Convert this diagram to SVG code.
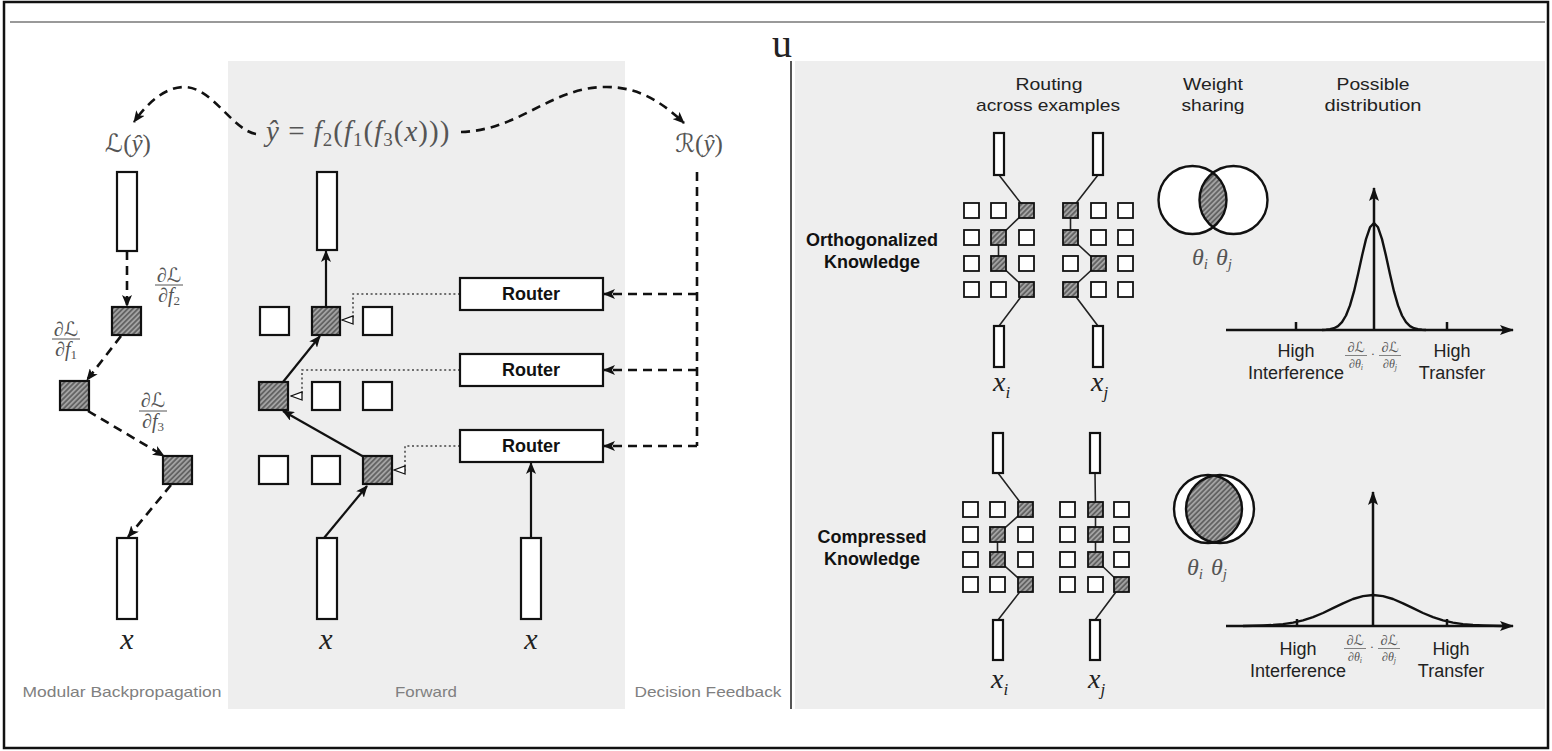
<svg xmlns="http://www.w3.org/2000/svg" width="1552" height="751" viewBox="0 0 1552 751">
<defs>
<pattern id="hatch" patternUnits="userSpaceOnUse" width="3.6" height="3.6" patternTransform="rotate(45)">
<rect width="3.6" height="3.6" fill="#636363"/>
<line x1="0.9" y1="0" x2="0.9" y2="3.6" stroke="#d6d6d6" stroke-width="1"/>
</pattern>
<marker id="ah" viewBox="0 0 12 10" refX="11" refY="5" markerWidth="12" markerHeight="10" markerUnits="userSpaceOnUse" orient="auto">
<path d="M0,0 L12,5 L0,10 L3,5 z" fill="#111"/>
</marker>
<marker id="axh" viewBox="0 0 14 10" refX="13" refY="5" markerWidth="14" markerHeight="10" markerUnits="userSpaceOnUse" orient="auto">
<path d="M0,0 L14,5 L0,10 L3,5 z" fill="#111"/>
</marker>
<marker id="tri" viewBox="-1 -1 13 10" refX="11" refY="4" markerWidth="13" markerHeight="10" markerUnits="userSpaceOnUse" orient="auto">
<path d="M0,0 L11,4 L0,8 z" fill="#fff" stroke="#111" stroke-width="1.3"/>
</marker>
<clipPath id="vA1"><circle cx="1192.5" cy="200" r="34"/></clipPath>
<clipPath id="vA2"><circle cx="1208" cy="509" r="34"/></clipPath>
<style>
.box{fill:#fff;stroke:#111;stroke-width:2.2}
.hb{fill:url(#hatch);stroke:#111;stroke-width:2.2}
.sq{fill:#fff;stroke:#111;stroke-width:1.8}
.sh{fill:url(#hatch);stroke:#111;stroke-width:1.8}
.dash{fill:none;stroke:#111;stroke-width:2.6;stroke-dasharray:9 6}
.solid{fill:none;stroke:#111;stroke-width:2.2}
.dot{fill:none;stroke:#444;stroke-width:1.5;stroke-dasharray:2 2.6}
.thin{fill:none;stroke:#222;stroke-width:1.6}
.axis{fill:none;stroke:#111;stroke-width:2.5}
.curve{fill:none;stroke:#111;stroke-width:2.4;stroke-linejoin:round}
.hdr{font-family:"Liberation Sans",Arial,sans-serif;font-size:17px;fill:#222;text-anchor:middle}
.bold{font-family:"Liberation Sans",Arial,sans-serif;font-size:18px;font-weight:bold;fill:#111;text-anchor:middle}
.foot{font-family:"Liberation Sans",Arial,sans-serif;font-size:15px;fill:#808080;text-anchor:middle}
.ax{font-family:"Liberation Sans",Arial,sans-serif;font-size:18px;fill:#222;text-anchor:middle}
.math{font-family:"Liberation Serif","DejaVu Serif","DejaVu Sans",serif;font-style:italic;fill:#555}
.mr{font-family:"Liberation Serif","DejaVu Serif","DejaVu Sans",serif;font-style:normal;fill:#555}
.var{font-family:"Liberation Serif","DejaVu Serif",serif;font-style:italic;fill:#222}
</style>
</defs>

<!-- frame -->
<rect x="4" y="2" width="1544" height="746" fill="#fff" stroke="#111" stroke-width="2.5"/>
<line x1="10" y1="22" x2="1545" y2="22" stroke="#777" stroke-width="1.6"/>
<text x="772" y="57" font-family="Liberation Serif, serif" font-size="40" fill="#222">u</text>

<!-- panels -->
<rect id="panel-forward" x="228" y="61" width="397" height="648" fill="#eeeeee"/>
<rect id="panel-right" x="795" y="61" width="750" height="648" fill="#eeeeee"/>
<line x1="791" y1="61" x2="791" y2="709" stroke="#555" stroke-width="2"/>

<!-- connectors -->
<g id="connectors">
<path class="dash" d="M256,134 C232,130 212,86 183,87 C163,88 146,105 134,122" marker-end="url(#ah)"/>
<path class="dash" d="M461,132 C520,130 550,88 604,87 C640,86 665,105 684,123" marker-end="url(#ah)"/>
<path class="dash" d="M127,251 V306" marker-end="url(#ah)"/>
<path class="dash" d="M121,336 L87,380" marker-end="url(#ah)"/>
<path class="dash" d="M88,411 L164,456" marker-end="url(#ah)"/>
<path class="dash" d="M171,485 L128,537" marker-end="url(#ah)"/>
<path class="solid" d="M326,307 V251" marker-end="url(#ah)"/>
<path class="solid" d="M283,382 L320,336" marker-end="url(#ah)"/>
<path class="solid" d="M364,457 L283,411" marker-end="url(#ah)"/>
<path class="solid" d="M324,538 L367,486" marker-end="url(#ah)"/>
<path class="solid" d="M531,538 V463" marker-end="url(#ah)"/>
<path class="dash" d="M697,172 V446"/>
<path class="dash" d="M697,294 H604" marker-end="url(#ah)"/>
<path class="dash" d="M697,370 H604" marker-end="url(#ah)"/>
<path class="dash" d="M697,446 H604" marker-end="url(#ah)"/>
<path class="dot" d="M460,294 H353 V320 H342" marker-end="url(#tri)"/>
<path class="dot" d="M460,370 H302 V396 H291" marker-end="url(#tri)"/>
<path class="dot" d="M460,446 H405 V470 H394" marker-end="url(#tri)"/>
<polyline class="thin" points="999,175 1026.5,210.5 998.5,237.5 998.5,263.5 1026.5,289.5 999,326"/>
<polyline class="thin" points="1098,175 1070.5,210.5 1070.5,237.5 1098.5,263.5 1070.5,289.5 1098,326"/>
<polyline class="thin" points="998,473 1025.5,509.5 997.5,534.5 997.5,559.5 1025.5,584.5 998,620"/>
<polyline class="thin" points="1095,473 1095.5,509.5 1095.5,534.5 1095.5,559.5 1121.5,584.5 1095,620"/>
</g>

<!-- math labels -->
<g id="formula">
<text class="math" x="266" y="141" font-size="29" letter-spacing="1">ŷ<tspan class="mr"> = </tspan>f<tspan font-size="19" dy="5" class="mr">2</tspan><tspan class="mr" dy="-5">(</tspan>f<tspan font-size="19" dy="5" class="mr">1</tspan><tspan class="mr" dy="-5">(</tspan>f<tspan font-size="19" dy="5" class="mr">3</tspan><tspan class="mr" dy="-5">(</tspan>x<tspan class="mr">)))</tspan></text>
</g>
<g id="loss"><text class="math" x="128" y="152" font-size="25" text-anchor="middle">ℒ<tspan class="mr">(</tspan>ŷ<tspan class="mr">)</tspan></text></g>
<g id="reg"><text class="math" x="699" y="152" font-size="25" text-anchor="middle">ℛ<tspan class="mr">(</tspan>ŷ<tspan class="mr">)</tspan></text></g>

<!-- backprop column -->
<g id="bp-out"><rect class="box" x="117" y="172" width="20" height="79"/></g>
<g id="bp-f2"><rect class="hb" x="112" y="307" width="29" height="28"/></g>
<g id="bp-f1"><rect class="hb" x="60" y="381" width="29" height="29"/></g>
<g id="bp-f3"><rect class="hb" x="163" y="456" width="29" height="28"/></g>
<g id="bp-in"><rect class="box" x="117" y="538" width="20" height="81"/><text class="var" x="127" y="649" font-size="30" text-anchor="middle">x</text></g>
<g id="grad-f2" text-anchor="middle">
<text class="math" x="169" y="282" font-size="20">∂ℒ</text>
<line x1="155" y1="285" x2="183" y2="285" stroke="#555" stroke-width="1"/>
<text class="math" x="169" y="302" font-size="20">∂f<tspan font-size="13" dy="3" class="mr">2</tspan></text>
</g>
<g id="grad-f1" text-anchor="middle">
<text class="math" x="66" y="336" font-size="20">∂ℒ</text>
<line x1="52" y1="339" x2="80" y2="339" stroke="#555" stroke-width="1"/>
<text class="math" x="66" y="356" font-size="20">∂f<tspan font-size="13" dy="3" class="mr">1</tspan></text>
</g>
<g id="grad-f3" text-anchor="middle">
<text class="math" x="153" y="407" font-size="20">∂ℒ</text>
<line x1="139" y1="411" x2="167" y2="411" stroke="#555" stroke-width="1"/>
<text class="math" x="153" y="428" font-size="20">∂f<tspan font-size="13" dy="3" class="mr">3</tspan></text>
</g>

<!-- forward column -->
<g id="fw-out"><rect class="box" x="317" y="172" width="20" height="78"/></g>
<g id="fw-row1"><rect class="box" x="260" y="307" width="29" height="28"/><rect class="hb" x="312" y="307" width="28" height="28"/><rect class="box" x="363" y="307" width="29" height="28"/></g>
<g id="fw-row2"><rect class="hb" x="259" y="382" width="29" height="28"/><rect class="box" x="312" y="382" width="28" height="28"/><rect class="box" x="363" y="382" width="29" height="28"/></g>
<g id="fw-row3"><rect class="box" x="259" y="456" width="29" height="28"/><rect class="box" x="312" y="456" width="28" height="28"/><rect class="hb" x="363" y="456" width="29" height="28"/></g>
<g id="fw-in"><rect class="box" x="317" y="538" width="20" height="81"/><text class="var" x="326" y="649" font-size="30" text-anchor="middle">x</text></g>
<g id="router1"><rect class="box" x="460" y="278" width="143" height="32"/><text class="bold" x="531" y="300">Router</text></g>
<g id="router2"><rect class="box" x="460" y="354" width="143" height="32"/><text class="bold" x="531" y="376">Router</text></g>
<g id="router3"><rect class="box" x="460" y="430" width="143" height="32"/><text class="bold" x="531" y="452">Router</text></g>
<g id="df-in"><rect class="box" x="521" y="538" width="20" height="81"/><text class="var" x="531" y="649" font-size="30" text-anchor="middle">x</text></g>

<!-- footer labels -->
<text class="foot" x="122" y="697" textLength="199" lengthAdjust="spacingAndGlyphs">Modular Backpropagation</text>
<text class="foot" x="426" y="697" textLength="62" lengthAdjust="spacingAndGlyphs">Forward</text>
<text class="foot" x="708" y="697" textLength="147" lengthAdjust="spacingAndGlyphs">Decision Feedback</text>

<!-- right headers -->
<g id="headers">
<text class="hdr" x="1049" y="90" textLength="67" lengthAdjust="spacingAndGlyphs">Routing</text>
<text class="hdr" x="1048" y="111" textLength="144" lengthAdjust="spacingAndGlyphs">across examples</text>
<text class="hdr" x="1213" y="90" textLength="60" lengthAdjust="spacingAndGlyphs">Weight</text>
<text class="hdr" x="1213" y="111" textLength="63" lengthAdjust="spacingAndGlyphs">sharing</text>
<text class="hdr" x="1373" y="90" textLength="73" lengthAdjust="spacingAndGlyphs">Possible</text>
<text class="hdr" x="1373" y="111" textLength="97" lengthAdjust="spacingAndGlyphs">distribution</text>
</g>

<!-- orthogonalized row -->
<g id="ortho-label"><text class="bold" x="872" y="246">Orthogonalized</text><text class="bold" x="872" y="268">Knowledge</text></g>
<g id="ortho-i">
<rect class="box" x="994" y="133" width="10" height="42" stroke-width="1.8"/>
<rect class="sq" x="964" y="203" width="15" height="15"/><rect class="sq" x="991" y="203" width="15" height="15"/><rect class="sh" x="1019" y="203" width="15" height="15"/>
<rect class="sq" x="964" y="230" width="15" height="15"/><rect class="sh" x="991" y="230" width="15" height="15"/><rect class="sq" x="1019" y="230" width="15" height="15"/>
<rect class="sq" x="964" y="256" width="15" height="15"/><rect class="sh" x="991" y="256" width="15" height="15"/><rect class="sq" x="1019" y="256" width="15" height="15"/>
<rect class="sq" x="964" y="282" width="15" height="15"/><rect class="sq" x="991" y="282" width="15" height="15"/><rect class="sh" x="1019" y="282" width="15" height="15"/>
<rect class="box" x="994" y="326" width="10" height="41" stroke-width="1.8"/>
<text class="var" x="993" y="391" font-size="28">x<tspan font-size="17" dy="7">i</tspan></text>
</g>
<g id="ortho-j">
<rect class="box" x="1093" y="133" width="10" height="42" stroke-width="1.8"/>
<rect class="sh" x="1063" y="203" width="15" height="15"/><rect class="sq" x="1091" y="203" width="15" height="15"/><rect class="sq" x="1118" y="203" width="15" height="15"/>
<rect class="sh" x="1063" y="230" width="15" height="15"/><rect class="sq" x="1091" y="230" width="15" height="15"/><rect class="sq" x="1118" y="230" width="15" height="15"/>
<rect class="sq" x="1063" y="256" width="15" height="15"/><rect class="sh" x="1091" y="256" width="15" height="15"/><rect class="sq" x="1118" y="256" width="15" height="15"/>
<rect class="sh" x="1063" y="282" width="15" height="15"/><rect class="sq" x="1091" y="282" width="15" height="15"/><rect class="sq" x="1118" y="282" width="15" height="15"/>
<rect class="box" x="1093" y="326" width="10" height="41" stroke-width="1.8"/>
<text class="var" x="1091" y="391" font-size="28">x<tspan font-size="17" dy="7">j</tspan></text>
</g>
<g id="venn-ortho">
<circle cx="1192.5" cy="200" r="34" fill="#fff"/>
<circle cx="1233.5" cy="200" r="34" fill="#fff"/>
<circle cx="1233.5" cy="200" r="34" fill="url(#hatch)" clip-path="url(#vA1)"/>
<circle cx="1192.5" cy="200" r="34" fill="none" stroke="#111" stroke-width="2.4"/>
<circle cx="1233.5" cy="200" r="34" fill="none" stroke="#111" stroke-width="2.4"/>
<text class="math" x="1192" y="265" font-size="24">θ<tspan font-size="15" dy="4">i</tspan><tspan dx="8" dy="-4">θ</tspan><tspan font-size="15" dy="4">j</tspan></text>
</g>
<g id="dist-ortho">
<path class="axis" d="M1226,330 H1513" marker-end="url(#axh)"/>
<path class="axis" d="M1374,330 V188" marker-end="url(#axh)"/>
<path class="axis" d="M1296,322 V330 M1447,322 V330"/>
<path class="curve" d="M1322,330 L1326,329.7 L1330,329.2 L1334,328.2 L1338,326.1 L1342,322.2 L1346,315.5 L1350,305.4 L1354,291.4 L1358,274.3 L1362,255.9 L1366,239.1 L1370,227.3 L1374,223 L1378,227.3 L1382,239.1 L1386,255.9 L1390,274.3 L1394,291.4 L1398,305.4 L1402,315.5 L1406,322.2 L1410,326.1 L1414,328.2 L1418,329.2 L1422,329.7 L1426,330"/>
<text class="ax" x="1296" y="357">High</text>
<text class="ax" x="1296" y="379">Interference</text>
<text class="ax" x="1452" y="357">High</text>
<text class="ax" x="1452" y="379">Transfer</text>
<g text-anchor="middle">
<text class="math" x="1356" y="352" font-size="14">∂ℒ</text>
<line x1="1345" y1="355.5" x2="1367" y2="355.5" stroke="#666" stroke-width="0.8"/>
<text class="math" x="1356" y="368" font-size="12">∂θ<tspan font-size="8" dy="2">i</tspan></text>
<text class="mr" x="1373" y="358" font-size="13">·</text>
<text class="math" x="1390" y="352" font-size="14">∂ℒ</text>
<line x1="1379" y1="355.5" x2="1401" y2="355.5" stroke="#666" stroke-width="0.8"/>
<text class="math" x="1390" y="368" font-size="12">∂θ<tspan font-size="8" dy="2">j</tspan></text>
</g>
</g>

<!-- compressed row -->
<g id="comp-label"><text class="bold" x="872" y="543">Compressed</text><text class="bold" x="872" y="565">Knowledge</text></g>
<g id="comp-i">
<rect class="box" x="993" y="433" width="10" height="40" stroke-width="1.8"/>
<rect class="sq" x="963" y="502" width="15" height="15"/><rect class="sq" x="990" y="502" width="15" height="15"/><rect class="sh" x="1018" y="502" width="15" height="15"/>
<rect class="sq" x="963" y="527" width="15" height="15"/><rect class="sh" x="990" y="527" width="15" height="15"/><rect class="sq" x="1018" y="527" width="15" height="15"/>
<rect class="sq" x="963" y="552" width="15" height="15"/><rect class="sh" x="990" y="552" width="15" height="15"/><rect class="sq" x="1018" y="552" width="15" height="15"/>
<rect class="sq" x="963" y="577" width="15" height="15"/><rect class="sq" x="990" y="577" width="15" height="15"/><rect class="sh" x="1018" y="577" width="15" height="15"/>
<rect class="box" x="993" y="620" width="10" height="40" stroke-width="1.8"/>
<text class="var" x="991" y="688" font-size="28">x<tspan font-size="17" dy="7">i</tspan></text>
</g>
<g id="comp-j">
<rect class="box" x="1090" y="433" width="10" height="40" stroke-width="1.8"/>
<rect class="sq" x="1060" y="502" width="15" height="15"/><rect class="sh" x="1088" y="502" width="15" height="15"/><rect class="sq" x="1114" y="502" width="15" height="15"/>
<rect class="sq" x="1060" y="527" width="15" height="15"/><rect class="sh" x="1088" y="527" width="15" height="15"/><rect class="sq" x="1114" y="527" width="15" height="15"/>
<rect class="sq" x="1060" y="552" width="15" height="15"/><rect class="sh" x="1088" y="552" width="15" height="15"/><rect class="sq" x="1114" y="552" width="15" height="15"/>
<rect class="sq" x="1060" y="577" width="15" height="15"/><rect class="sq" x="1088" y="577" width="15" height="15"/><rect class="sh" x="1114" y="577" width="15" height="15"/>
<rect class="box" x="1090" y="620" width="10" height="40" stroke-width="1.8"/>
<text class="var" x="1088" y="688" font-size="28">x<tspan font-size="17" dy="7">j</tspan></text>
</g>
<g id="venn-comp">
<circle cx="1208" cy="509" r="34" fill="#fff"/>
<circle cx="1220" cy="509" r="34" fill="#fff"/>
<circle cx="1220" cy="509" r="34" fill="url(#hatch)" clip-path="url(#vA2)"/>
<circle cx="1208" cy="509" r="34" fill="none" stroke="#111" stroke-width="2.4"/>
<circle cx="1220" cy="509" r="34" fill="none" stroke="#111" stroke-width="2.4"/>
<text class="math" x="1187" y="575" font-size="24">θ<tspan font-size="15" dy="4">i</tspan><tspan dx="8" dy="-4">θ</tspan><tspan font-size="15" dy="4">j</tspan></text>
</g>
<g id="dist-comp">
<path class="axis" d="M1226,626 H1513" marker-end="url(#axh)"/>
<path class="axis" d="M1373,626 V492" marker-end="url(#axh)"/>
<path class="axis" d="M1297,619 V626 M1447,619 V626"/>
<path class="curve" d="M1243,626 L1253,625.8 L1263,625.5 L1273,625 L1283,624.1 L1293,622.6 L1303,620.3 L1313,617.1 L1323,613 L1333,608.2 L1343,603.3 L1353,599 L1363,596.1 L1373,595 L1383,596.1 L1393,599 L1403,603.3 L1413,608.2 L1423,613 L1433,617.1 L1443,620.3 L1453,622.6 L1463,624.1 L1473,625 L1483,625.5 L1493,625.8 L1503,626"/>
<text class="ax" x="1298" y="655">High</text>
<text class="ax" x="1298" y="677">Interference</text>
<text class="ax" x="1451" y="655">High</text>
<text class="ax" x="1451" y="677">Transfer</text>
<g text-anchor="middle">
<text class="math" x="1355" y="645" font-size="14">∂ℒ</text>
<line x1="1344" y1="648.5" x2="1366" y2="648.5" stroke="#666" stroke-width="0.8"/>
<text class="math" x="1355" y="661" font-size="12">∂θ<tspan font-size="8" dy="2">i</tspan></text>
<text class="mr" x="1372" y="651" font-size="13">·</text>
<text class="math" x="1389" y="645" font-size="14">∂ℒ</text>
<line x1="1378" y1="648.5" x2="1400" y2="648.5" stroke="#666" stroke-width="0.8"/>
<text class="math" x="1389" y="661" font-size="12">∂θ<tspan font-size="8" dy="2">j</tspan></text>
</g>
</g>
</svg>
